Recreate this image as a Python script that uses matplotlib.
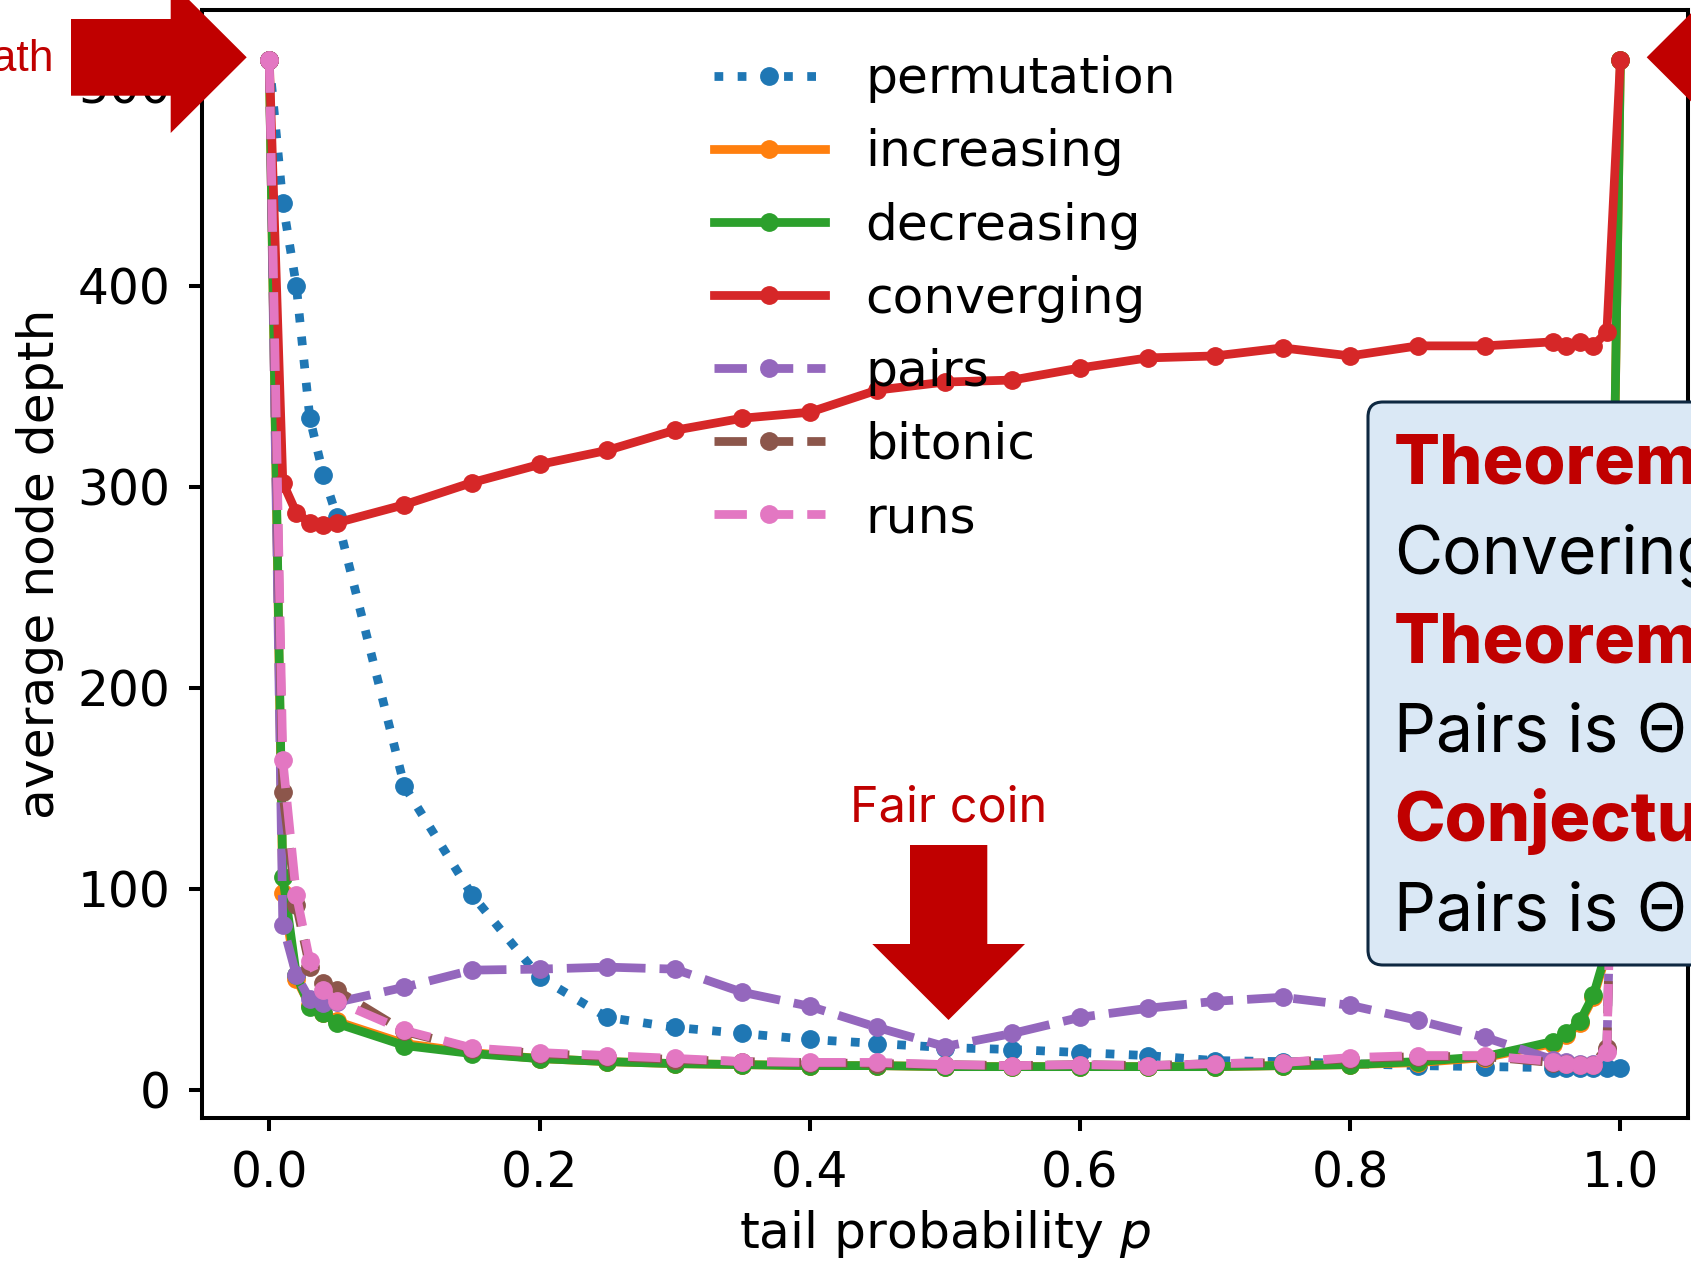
## Chart of average node depth against tail probability, with slide annotations
import matplotlib
matplotlib.use("Agg")
import matplotlib.pyplot as plt
from matplotlib.patches import Polygon, FancyBboxPatch
from matplotlib.transforms import Affine2D

## size of the final picture in pixels
W, H = 1691, 1267

## tail probabilities that were measured
p = [0, 0.01, 0.02, 0.03, 0.04, 0.05, 0.1, 0.15, 0.2, 0.25, 0.3, 0.35, 0.4, 0.45,
     0.5, 0.55, 0.6, 0.65, 0.7, 0.75, 0.8, 0.85, 0.9, 0.95, 0.96, 0.97, 0.98, 0.99, 1.0]

## average node depth of each input family
permutation = [512, 441, 400, 334, 306, 285, 151, 97, 56, 36, 31, 28, 25, 23,
               21, 20, 18.5, 17, 14.5, 14, 13, 12, 11.5, 11, 11, 11, 11, 11, 11]
increasing = [512, 98, 55, 42, 38, 34, 23, 18.5, 15.5, 14, 13, 12.5, 12, 12,
              11.5, 11.5, 11.5, 11.5, 11.5, 12, 12.5, 13.5, 16, 23, 27, 33, 46, 68, 512]
decreasing = [512, 106, 57, 41, 38, 33, 22, 18, 15.5, 14, 13, 12.5, 12, 12,
              11.5, 11.5, 11.5, 11.5, 11.5, 12, 12.5, 14, 16.5, 24, 28, 34, 47, 70, 512]
converging = [512, 302, 287, 282, 281, 282, 291, 302, 311, 318, 328, 334, 337, 348,
              352, 353, 359, 364, 365, 369, 365, 370, 370, 372, 370, 372, 370, 377, 512]
pairs = [512, 82, 57, 45, 43, 43.5, 51, 59.5, 60, 61, 60, 48.5, 41.5, 31,
         21.5, 28, 36, 40.5, 44, 46, 42, 34.5, 26, 15, 14, 13, 13, 20, 320]
bitonic = [512, 148, 92, 61, 53, 49.5, 29, 20.5, 18, 16.5, 15, 14, 13.5, 13,
           12.5, 12, 12.5, 12, 13, 13.5, 15.5, 16.5, 16.5, 13.5, 13, 12.5, 12.5, 21, 320]
runs = [512, 164, 97, 64, 49.5, 44, 29.5, 20.8, 18.5, 17, 15.6, 14, 13.6, 13.6,
        12.5, 12, 12.5, 12, 13, 13.5, 16, 17, 17, 14, 13, 12.5, 12.5, 19, 320]

series = [("permutation", permutation, ":"),
          ("increasing", increasing, "-"),
          ("decreasing", decreasing, "-"),
          ("converging", converging, "-"),
          ("pairs", pairs, "--"),
          ("bitonic", bitonic, "--"),
          ("runs", runs, "--")]

## slide texts
box_lines = [("Theorem", True), ("Convering", False), ("Theorem", True),
             ("Pairs is Θ", False), ("Conjecture", True), ("Pairs is Θ", False)]

red = "#C00000"

## big fonts and thick lines, the chart is blown up on the slide
plt.rcParams["font.size"] = 35
plt.rcParams["axes.linewidth"] = 2.9
plt.rcParams["xtick.major.size"] = 9.4
plt.rcParams["ytick.major.size"] = 9.4
plt.rcParams["xtick.major.width"] = 2.9
plt.rcParams["ytick.major.width"] = 2.9
plt.rcParams["xtick.major.pad"] = 13
plt.rcParams["ytick.major.pad"] = 13

fig = plt.figure(figsize=(W / 100, H / 100), dpi=100)
ax = fig.add_axes([0.1193, 0.1176, 0.9982 - 0.1193, 0.9921 - 0.1176])

for name, vals, ls in series:
    ax.plot(p, vals, linestyle=ls, marker="o", ms=12.5, lw=6.3, label=name)

ax.legend(loc="upper center", frameon=False, handlelength=2.2, fontsize=36.2)
ax.set_xlabel("tail probability $p$", fontsize=36.3, labelpad=8)
ax.set_ylabel("average node depth", fontsize=36.3, labelpad=10)

## pixel coordinates measured from the top left corner of the picture
px = Affine2D().scale(1 / W, -1 / H).translate(0, 1) + fig.transFigure

## arrow pointing at p = 0
left_arrow = [(71, 19), (170.7, 19), (170.7, -18.4), (246.7, 57.3),
              (170.7, 133), (170.7, 95.7), (71, 95.7)]
## arrow pointing at p = 1
right_arrow = [(1822, 19), (1722.7, 19), (1722.7, -18.4), (1646.7, 57.3),
               (1722.7, 133), (1722.7, 95.7), (1822, 95.7)]
## arrow pointing at the fair coin
down_arrow = [(910, 845), (987.3, 845), (987.3, 944), (1025, 944),
              (948.5, 1020), (872.3, 944), (910, 944)]

for pts in [left_arrow, right_arrow, down_arrow]:
    fig.add_artist(Polygon(pts, closed=True, facecolor=red, edgecolor="none",
                           transform=px, zorder=10))

fig.text(54, 71, "Path", transform=px, color=red, fontsize=32,
         family="Liberation Sans", ha="right", va="baseline", zorder=11)
fig.text(948.5, 821, "Fair coin", transform=px, color=red, fontsize=35,
         family="Inter", ha="center", va="baseline", zorder=11)

## the box with the results, it runs off the right side of the slide
fig.add_artist(FancyBboxPatch((1368, 402), 480, 563,
                              boxstyle="round,pad=0,rounding_size=15",
                              facecolor="#DAE8F5", edgecolor="#0E2841",
                              lw=2.2, transform=px, zorder=12))

for i, (txt, bold) in enumerate(box_lines):
    fig.text(1394, 484 + 89.3 * i, txt, transform=px,
             fontsize=49 if bold else 47.5, family="Inter",
             fontweight="heavy" if bold else "normal",
             color=red if bold else "black", va="baseline", zorder=13)

fig.savefig("out.png", dpi=100)
